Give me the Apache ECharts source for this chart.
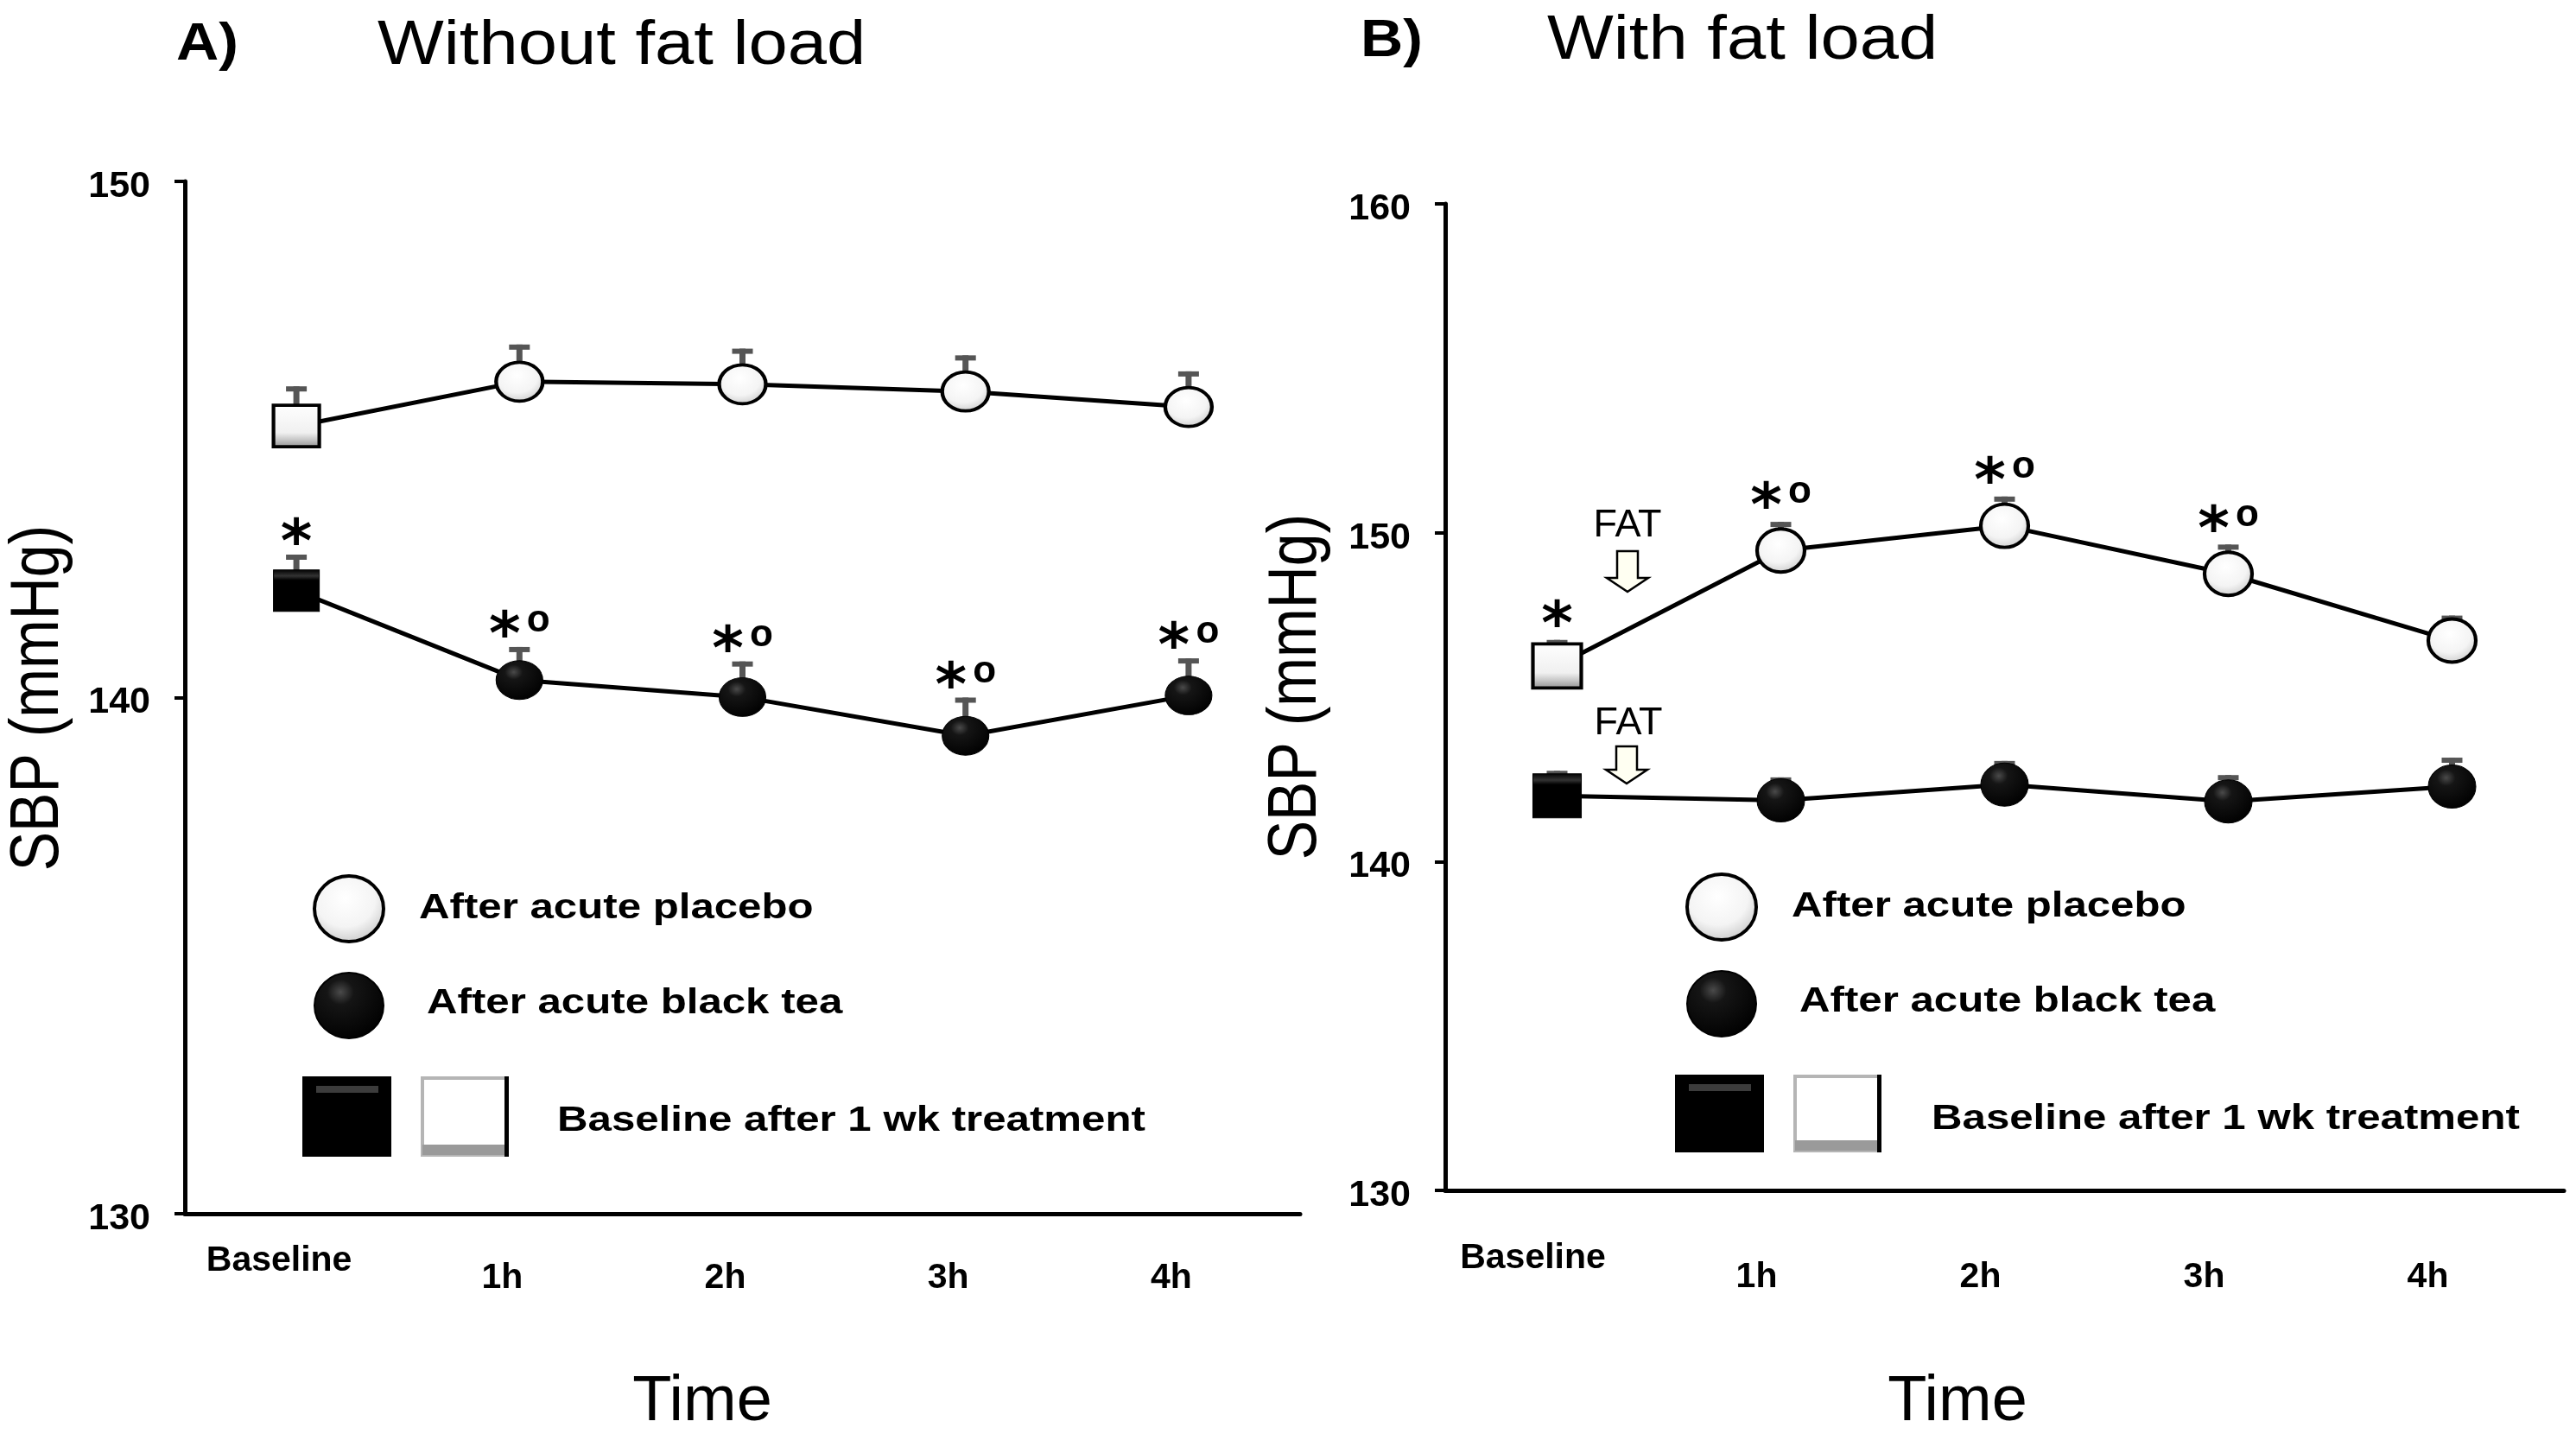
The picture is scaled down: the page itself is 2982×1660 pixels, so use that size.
<!DOCTYPE html>
<html>
<head>
<meta charset="utf-8">
<script src="https://cdn.jsdelivr.net/npm/echarts@6/dist/echarts.min.js"></script>
<style>
html,body{margin:0;padding:0;background:#fff;}
#chart{width:2982px;height:1660px;}
</style>
</head>
<body>
<div id="chart"></div>
<script>
// ---------------- data ----------------
const categories = ['Baseline', '1h', '2h', '3h', '4h'];
const yTicksA = [130, 140, 150];
const yTicksB = [130, 140, 150, 160];

const placeboA = [145.26, 146.12, 146.07, 145.93, 145.63];
const placeboAErr = [0.77, 0.72, 0.69, 0.70, 0.69];
const teaA = [142.07, 140.34, 140.01, 139.26, 140.04];
const teaAErr = [0.70, 0.64, 0.69, 0.74, 0.72];

const placeboB = [145.95, 149.46, 150.21, 148.75, 146.72];
const placeboBErr = [0.79, 0.87, 0.89, 0.89, 0.76];
const teaB = [142.00, 141.86, 142.34, 141.83, 142.28];
const teaBErr = [0.76, 0.70, 0.72, 0.80, 0.88];

const annoPlaceboA = ['', '', '', '', ''];
const annoTeaA = ['*', '*o', '*o', '*o', '*o'];
const annoPlaceboB = ['*', '*o', '*o', '*o', ''];
const annoTeaB = ['', '', '', '', ''];

const titleA = ['A)', 'Without fat load'];
const titleB = ['B)', 'With fat load'];
const yTitle = 'SBP (mmHg)';
const xTitle = 'Time';
const legendTexts = ['After acute placebo', 'After acute black tea', 'Baseline after 1 wk treatment'];
const fatText = 'FAT';

// ---------------- styles ----------------
const FF = "'Liberation Sans', Arial, Helvetica, sans-serif";
const G = echarts.graphic;
function whiteBall(){ return new G.RadialGradient(0.45, 0.35, 0.75, [
  {offset:0, color:'#ffffff'}, {offset:0.55, color:'#f4f4f4'}, {offset:0.85, color:'#cfcfcf'}, {offset:1, color:'#9a9a9a'}]); }
function blackBall(){ return new G.RadialGradient(0.38, 0.3, 0.75, [
  {offset:0, color:'#4a4a4a'}, {offset:0.25, color:'#151515'}, {offset:1, color:'#000000'}]); }
function whiteSq(){ return new G.LinearGradient(0, 0, 0, 1, [
  {offset:0, color:'#ffffff'}, {offset:0.65, color:'#f0f0f0'}, {offset:0.8, color:'#c8c8c8'}, {offset:1, color:'#8a8a8a'}]); }
function blackSq(){ return new G.LinearGradient(0, 0, 0, 1, [
  {offset:0, color:'#000'}, {offset:0.15, color:'#333'}, {offset:0.25, color:'#000'}, {offset:1, color:'#000'}]); }

function markerData(vals, dark, sizeC, sizeR){
  return vals.map((v, i) => {
    if (i === 0) {
      return {value: v, symbol: 'rect', symbolSize: sizeR,
        itemStyle: dark ? {color: blackSq(), borderColor:'#000', borderWidth:1}
                        : {color: whiteSq(), borderColor:'#000', borderWidth:4}};
    }
    return {value: v, symbol: 'circle', symbolSize: sizeC,
      itemStyle: dark ? {color: blackBall(), borderColor:'#000', borderWidth:1}
                      : {color: whiteBall(), borderColor:'#000', borderWidth:4}};
  });
}

function lineSeries(g, vals, dark, sizeC, sizeR){
  return {type:'line', xAxisIndex:g, yAxisIndex:g, z:3, silent:true,
    data: markerData(vals, dark, sizeC, sizeR),
    lineStyle:{color:'#000', width:5}, itemStyle:{color:'#000'},
    showSymbol:true, emphasis:{disabled:true}};
}

function errSeries(g, vals, errs){
  return {type:'custom', xAxisIndex:g, yAxisIndex:g, z:2, silent:true,
    data: vals.map((v, i) => [i, v, errs[i]]),
    renderItem: (params, api) => {
      const i = api.value(0), v = api.value(1), e = api.value(2);
      const p0 = api.coord([i, v]);
      const p1 = api.coord([i, v + e]);
      return {type:'group', children:[
        {type:'line', shape:{x1:p0[0], y1:p0[1], x2:p1[0], y2:p1[1]}, style:{stroke:'#555', lineWidth:7}},
        {type:'line', shape:{x1:p1[0]-12, y1:p1[1]+3, x2:p1[0]+12, y2:p1[1]+3}, style:{stroke:'#555', lineWidth:6}}
      ]};
    }};
}

function annoSeries(g, vals, errs, annos, off){
  return {type:'custom', xAxisIndex:g, yAxisIndex:g, z:5, silent:true,
    data: vals.map((v, i) => [i, v + errs[i]]),
    renderItem: (params, api) => {
      const a = annos[params.dataIndex];
      if (!a) return null;
      const p = api.coord([api.value(0), api.value(1)]);
      const cy = p[1] - off;
      const star = (x) => ({type:'text', x: x, y: cy + 14,
        style:{text:'*', font:"bold 70px 'DejaVu Sans', sans-serif", fill:'#000', textAlign:'center', textVerticalAlign:'middle'}});
      const o = (x) => ({type:'text', x: x, y: cy - 6,
        style:{text:'o', font:"bold 44px " + FF, fill:'#000', textAlign:'center', textVerticalAlign:'middle'}});
      const children = a === '*' ? [star(p[0])] : [star(p[0] - 17), o(p[0] + 22)];
      return {type:'group', children: children};
    }};
}

function xAxisCfg(g, margin, liftPad, shift){
  const base = {fontFamily: FF, fontWeight:'bold', fontSize:41, color:'#000'};
  return {type:'category', gridIndex:g, data: categories, boundaryGap:true,
    axisLine:{show:true, lineStyle:{color:'#000', width:5}},
    axisTick:{show:false},
    splitLine:{show:false},
    axisLabel:{margin: margin, interval:0,
      formatter: (v) => v === categories[0] ? '{b|' + v + '}' : '{h|' + v + '}',
      rich:{
        b: Object.assign({padding:[0, shift, 0, 0]}, base),
        h: Object.assign({padding:[liftPad, shift, 0, 0]}, base)
      }}};
}

function yAxisCfg(g, ticks){
  return {type:'value', gridIndex:g, min: ticks[0], max: ticks[ticks.length-1], interval: ticks[1]-ticks[0],
    axisLine:{show:true, lineStyle:{color:'#000', width:5}},
    axisTick:{show:true, length:12, lineStyle:{color:'#000', width:4}},
    splitLine:{show:false},
    axisLabel:{margin:40, formatter: (v) => '{a|' + v + '}',
      rich:{a:{fontFamily:FF, fontWeight:'bold', fontSize:43, color:'#000', padding:[12,0,0,0]}}}};
}

// --------------- graphics (titles, legend, FAT arrows) ---------------
function txt(x, y, text, font, opts){
  return Object.assign({type:'text', x:x, y:y, silent:true,
    style:{text:text, font:font, fill:'#000', textAlign:'left', textVerticalAlign:'middle'}}, opts || {});
}
function legendGroup(dx, dy, tx1, tx2, tx3, sqH){
  return [
    {type:'circle', x:404+dx, y:1052+dy, scaleY:0.95, shape:{cx:0, cy:0, r:40}, style:{fill: whiteBall(), stroke:'#000', lineWidth:4}, silent:true},
    {type:'circle', x:404+dx, y:1164+dy, scaleY:0.95, shape:{cx:0, cy:0, r:40}, style:{fill: blackBall(), stroke:'#000', lineWidth:2}, silent:true},
    {type:'rect', shape:{x:350+dx, y:1246+dy, width:103, height:sqH}, style:{fill:'#000'}, silent:true},
    {type:'rect', shape:{x:366+dx, y:1257+dy, width:72, height:8}, style:{fill:'#3c3c3c'}, silent:true},
    {type:'rect', shape:{x:489+dx, y:1248+dy, width:98, height:sqH-4}, style:{fill:'#fff', stroke:'#b5b5b5', lineWidth:4}, silent:true},
    {type:'rect', shape:{x:489+dx, y:1246+dy+sqH-14, width:98, height:12}, style:{fill:'#9a9a9a'}, silent:true},
    {type:'rect', shape:{x:584+dx, y:1246+dy, width:5, height:sqH}, style:{fill:'#000'}, silent:true},
    txt(tx1+dx, 1052+dy, legendTexts[0], 'bold 41px ' + FF, {scaleX:1.2}),
    txt(tx2+dx, 1162+dy, legendTexts[1], 'bold 41px ' + FF, {scaleX:1.2}),
    txt(tx3+dx, 1298+dy, legendTexts[2], 'bold 41px ' + FF, {scaleX:1.2})
  ];
}
function fatArrow(cx, top, shaftEnd, tip){
  return {type:'polygon', silent:true,
    shape:{points:[[cx-12, top], [cx+12, top], [cx+12, shaftEnd], [cx+24, shaftEnd], [cx, tip], [cx-24, shaftEnd], [cx-12, shaftEnd]]},
    style:{fill:'#fffff2', stroke:'#000', lineWidth:2.5}};
}

const graphics = [
  txt(204, 52, titleA[0], 'bold 62px ' + FF, {scaleX:1.1}),
  txt(437, 54, titleA[1], '72px ' + FF, {scaleX:1.13}),
  txt(1575, 48, titleB[0], 'bold 62px ' + FF, {scaleX:1.1}),
  txt(1791, 48, titleB[1], '72px ' + FF, {scaleX:1.13}),
  {type:'text', x:45, y:808, rotation:Math.PI/2, scaleY:1.17, silent:true,
    style:{text:yTitle, font:'68px ' + FF, fill:'#000', textAlign:'center', textVerticalAlign:'middle'}},
  {type:'text', x:1501, y:795, rotation:Math.PI/2, scaleY:1.17, silent:true,
    style:{text:yTitle, font:'68px ' + FF, fill:'#000', textAlign:'center', textVerticalAlign:'middle'}},
  {type:'text', x:813, y:1624, silent:true, style:{text:xTitle, font:'74px ' + FF, fill:'#000', textAlign:'center', textVerticalAlign:'middle'}},
  {type:'text', x:2266, y:1624, silent:true, style:{text:xTitle, font:'74px ' + FF, fill:'#000', textAlign:'center', textVerticalAlign:'middle'}},
  {type:'text', x:1884, y:609, silent:true, style:{text:fatText, font:'45px ' + FF, fill:'#000', textAlign:'center', textVerticalAlign:'middle'}},
  {type:'text', x:1885, y:838, silent:true, style:{text:fatText, font:'45px ' + FF, fill:'#000', textAlign:'center', textVerticalAlign:'middle'}},
  fatArrow(1884, 638, 669, 685),
  fatArrow(1883, 864, 891, 907)
].concat(legendGroup(0, 0, 485, 494, 645, 93), legendGroup(1589, -2, 485, 494, 647, 90));

const option = {
  animation:false,
  backgroundColor:'#fff',
  grid:[
    {left:214, top:210, width:1291, height:1195},
    {left:1673, top:236, width:1295, height:1142}
  ],
  xAxis:[xAxisCfg(0, 34, 20, 40), xAxisCfg(1, 58, 22, 56)],
  yAxis:[yAxisCfg(0, yTicksA), yAxisCfg(1, yTicksB)],
  series:[
    errSeries(0, placeboA, placeboAErr),
    errSeries(0, teaA, teaAErr),
    lineSeries(0, placeboA, false, [54, 45], [53, 48]),
    lineSeries(0, teaA, true, [54, 45], [53, 48]),
    annoSeries(0, placeboA, placeboAErr, annoPlaceboA, 24),
    annoSeries(0, teaA, teaAErr, annoTeaA, 24),
    errSeries(1, placeboB, placeboBErr),
    errSeries(1, teaB, teaBErr),
    lineSeries(1, placeboB, false, [55, 50], [56, 51]),
    lineSeries(1, teaB, true, [55, 50], [56, 51]),
    annoSeries(1, placeboB, placeboBErr, annoPlaceboB, 28),
    annoSeries(1, teaB, teaBErr, annoTeaB, 28)
  ],
  graphic: graphics
};

const chart = echarts.init(document.getElementById('chart'), null, {renderer:'canvas'});
chart.setOption(option);
</script>
</body>
</html>
